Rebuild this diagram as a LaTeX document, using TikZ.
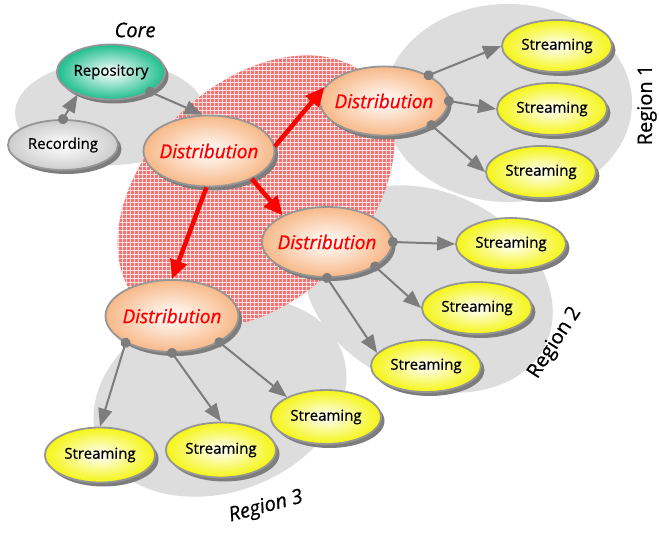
\documentclass[tikz,border=0pt]{standalone}
\usepackage{fontspec}
\setmainfont{Open Sans}[FakeBold=0.7]
\usetikzlibrary{shapes.geometric,arrows.meta,shadows}
\definecolor{blobgray}{RGB}{221,221,221}
\definecolor{bordergray}{RGB}{150,150,150}
\definecolor{shadowgray}{RGB}{125,125,125}
\definecolor{linegray}{RGB}{125,125,125}
\definecolor{distc}{RGB}{248,184,136}
\definecolor{streamc}{RGB}{245,245,20}
\definecolor{repoc}{RGB}{30,190,140}
\definecolor{recc}{RGB}{205,205,205}
\definecolor{hatchc}{RGB}{248,115,115}
\begin{document}
\begin{tikzpicture}[x=1pt,y=-1pt,
  nd/.style={ellipse, draw=bordergray, line width=1.8pt, inner sep=0pt,
    general shadow={fill=shadowgray, shadow xshift=3.5pt, shadow yshift=-4pt}},
  dist/.style={nd, minimum width=131pt, minimum height=71pt, inner color=white, outer color=distc,
    font=\fontsize{19}{22}\selectfont\itshape, text=red},
  stream/.style={nd, minimum width=110pt, minimum height=52pt, inner color=white, outer color=streamc,
    font=\fontsize{15}{18}\selectfont},
  gconn/.style={draw=linegray, line width=2pt, shorten <=-5pt,
    {Circle[length=10pt]}-{Triangle[length=18pt,width=14pt]}},
  redarr/.style={draw=red, line width=4.5pt, -{Triangle[length=19pt,width=17pt]}},
  lbl/.style={font=\fontsize{20}{24}\selectfont}
]
\useasboundingbox (0,0) rectangle (659,535);
% background regions
\fill[blobgray] (110,113) ellipse [x radius=95, y radius=52];
\fill[blobgray] (508,103) ellipse [x radius=124, y radius=99];
\fill[blobgray, rotate around={-25:(428,289)}] (428,289) ellipse [x radius=130, y radius=97];
\fill[blobgray, rotate around={20:(220,397)}] (220,397) ellipse [x radius=130, y radius=95];
% hatched core distribution area
\begin{scope}
\clip[rotate around={44:(256,192)}] (256,192) ellipse [x radius=161, y radius=109];
\fill[hatchc] (90,30) rectangle (420,350);
\foreach \k in {0,...,82} {
  \draw[white, line width=0.9pt, opacity=0.75] (90+4*\k,30) -- (90+4*\k,350);
  \draw[white, line width=0.9pt, opacity=0.75] (90,30+4*\k) -- (420,30+4*\k);
}
\end{scope}
% nodes
\node[nd, minimum width=110pt, minimum height=50pt, inner color=white, outer color=recc,
  font=\fontsize{15}{18}\selectfont] (rec) at (63,145) {\makebox[0pt]{Recording}};
\node[nd, minimum width=108pt, minimum height=55pt, inner color=white, outer color=repoc,
  font=\fontsize{15}{18}\selectfont] (repo) at (111,72) {\makebox[0pt]{Repository}};
\node[dist] (d0) at (209,151) {\makebox[0pt]{Distribution}};
\node[dist, minimum width=128pt, minimum height=69pt] (d1) at (384,101) {\makebox[0pt]{Distribution}};
\node[dist, minimum width=130pt, minimum height=70pt] (d2) at (327,242) {\makebox[0pt]{Distribution}};
\node[dist, minimum width=133pt, minimum height=72pt] (d3) at (172,316) {\makebox[0pt]{Distribution}};
\node[stream] (s1a) at (557,46) {\makebox[0pt]{Streaming}};
\node[stream] (s1b) at (552,109) {\makebox[0pt]{Streaming}};
\node[stream] (s1c) at (541,172) {\makebox[0pt]{Streaming}};
\node[stream] (s2a) at (511,244) {\makebox[0pt]{Streaming}};
\node[stream] (s2b) at (477,308) {\makebox[0pt]{Streaming}};
\node[stream] (s2c) at (426,366) {\makebox[0pt]{Streaming}};
\node[stream, minimum height=55pt] (s3a) at (100,455) {\makebox[0pt]{Streaming}};
\node[stream, minimum height=55pt] (s3b) at (221,450) {\makebox[0pt]{Streaming}};
\node[stream, minimum height=54pt] (s3c) at (326,417) {\makebox[0pt]{Streaming}};
% connectors
\draw[gconn] (rec.90) -- (repo.-146);
\draw[gconn] (repo.-27) -- (d0.100);
\draw[redarr] (d0.4) -- (d1.167);
\draw[redarr] (d0.-33) -- (d2.149);
\draw[redarr] (d0.-94) -- (d3.90);
\draw[gconn] (d1.30) -- (s1a.180);
\draw[gconn] (d1.0) -- (s1b.180);
\draw[gconn] (d1.-27) -- (s1c.180);
\draw[gconn] (d2.0) -- (s2a.180);
\draw[gconn] (d2.-27) -- (s2b.180);
\draw[gconn] (d2.-90) -- (s2c.165);
\draw[gconn] (d3.-150) -- (s3a.90);
\draw[gconn] (d3.-90) -- (s3b.90);
\draw[gconn] (d3.-29) -- (s3c.153);
% labels
\node[lbl, font=\fontsize{20}{24}\selectfont\itshape] (core) at (135,30) {Core};
\node[lbl, rotate=90] (r1) at (647,105) {Region 1};
\node[lbl, rotate=57] (r2) at (555,343) {Region 2};
\node[lbl, rotate=15, font=\fontsize{20}{24}\selectfont\itshape] (r3) at (266,507) {Region 3};
\end{tikzpicture}
\end{document}
